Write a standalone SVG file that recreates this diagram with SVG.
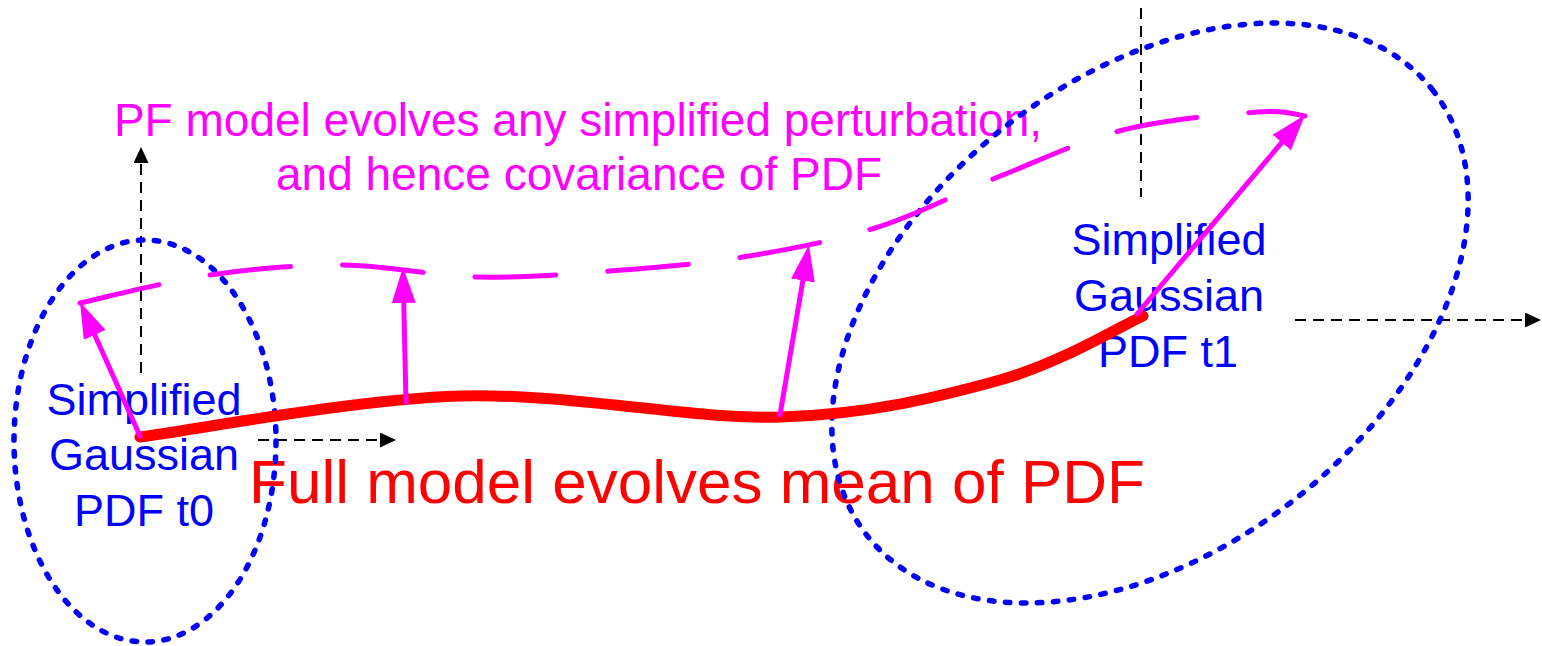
<svg xmlns="http://www.w3.org/2000/svg" width="1542" height="646" viewBox="0 0 1542 646">
<style>
.lbl{font-family:"Liberation Sans",Arial,sans-serif;text-anchor:middle}
.blue{fill:#0000FF;font-size:45px}
.mag{fill:#FF00FF;font-size:46px}
.red{fill:#FF0000;font-size:62px}
.pdf{fill:none;stroke:#0000FF;stroke-width:5.5;stroke-dasharray:4.5 11.5;stroke-linecap:round}
.axis{fill:none;stroke:#000;stroke-width:2;stroke-dasharray:11 7}
.pert{fill:none;stroke:#FF00FF;stroke-width:5;stroke-linecap:round}
.pfdash{fill:none;stroke:#FF00FF;stroke-width:5;stroke-linecap:round;stroke-dasharray:81 52}
.mean{fill:none;stroke:#FF0000;stroke-width:11;stroke-linecap:round}
</style>
<defs>
<marker id="mh" markerUnits="userSpaceOnUse" viewBox="0 0 36 24" markerWidth="36" markerHeight="24" refX="16" refY="12" orient="auto"><path d="M0,0 L36,12 L0,24 z" fill="#FF00FF"/></marker>
<marker id="bh" markerUnits="userSpaceOnUse" viewBox="0 0 16 15" markerWidth="16" markerHeight="15" refX="7" refY="7.5" orient="auto"><path d="M0,0 L16,7.5 L0,15 z" fill="#000"/></marker>
</defs>
<g id="labels">
<text class="lbl mag" x="578" y="136">PF model evolves any simplified perturbation,</text>
<text class="lbl mag" x="579" y="190">and hence covariance of PDF</text>
<text class="lbl red" x="697" y="503">Full model evolves mean of PDF</text>
</g>
<g id="axes">
<line class="axis" x1="141" y1="373" x2="141" y2="156" marker-end="url(#bh)"/>
<line class="axis" x1="258" y1="440" x2="387" y2="440" marker-end="url(#bh)"/>
<line class="axis" x1="1141" y1="8" x2="1141" y2="197"/>
<line class="axis" x1="1295" y1="320" x2="1532" y2="320" marker-end="url(#bh)"/>
</g>
<g id="pdf-t0">
<text class="lbl blue" x="144" y="415">Simplified</text>
<text class="lbl blue" x="144" y="470">Gaussian</text>
<text class="lbl blue" x="144" y="526">PDF t0</text>
<ellipse class="pdf" cx="145" cy="441" rx="131" ry="201"/>
</g>
<g id="pdf-t1">
<text class="lbl blue" x="1169" y="255">Simplified</text>
<text class="lbl blue" x="1169" y="311">Gaussian</text>
<text class="lbl blue" x="1168" y="367">PDF t1</text>
<ellipse class="pdf" cx="1150" cy="313" rx="360" ry="236" transform="rotate(-38.3 1150 313)"/>
</g>
<g id="mean-trajectory">
<path class="mean" d="M140,437 C193.3,430.2 353.3,399.3 460,396 C566.7,392.7 690,419.7 780,417 C870,414.3 939.5,396.8 1000,380 C1060.5,363.2 1119.2,326.7 1143,316"/>
</g>
<g id="perturbed-trajectory">
<path class="pfdash" d="M80,303 C101.7,298.3 166.2,281.3 210,275 C253.8,268.7 298.5,264.7 343,265 C387.5,265.3 432.5,276 477,277 C521.5,278 565.7,274.3 610,271 C654.3,267.7 698.8,264.2 743,257 C787.2,249.8 832.5,241.3 875,228 C917.5,214.7 956.7,193.3 998,177 C1039.3,160.7 1079.8,140.8 1123,130 C1166.2,119.2 1226.7,114.3 1257,112 C1287.3,109.7 1297,115.3 1305,116"/>
</g>
<g id="connectors">
<line class="pert" x1="140" y1="436" x2="88.2" y2="320.3" marker-end="url(#mh)"/>
<line class="pert" x1="406" y1="402" x2="403.4" y2="287" marker-end="url(#mh)"/>
<line class="pert" x1="780" y1="415" x2="805.6" y2="264.7" marker-end="url(#mh)"/>
<line class="pert" x1="1137" y1="314" x2="1292.1" y2="130.3" marker-end="url(#mh)"/>
</g>
</svg>
